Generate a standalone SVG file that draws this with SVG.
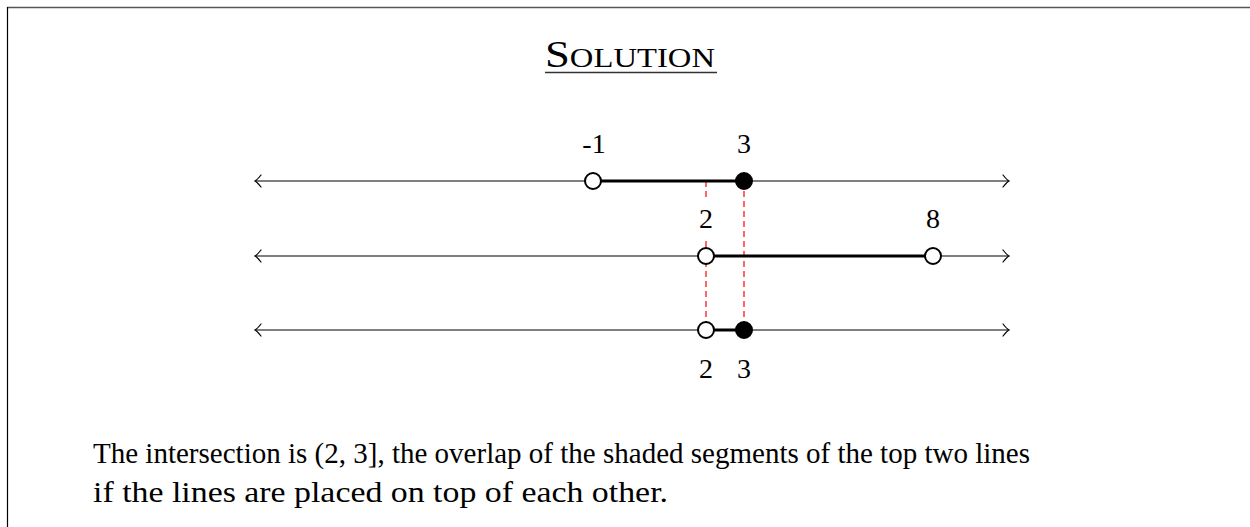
<svg xmlns="http://www.w3.org/2000/svg" width="1250" height="527" viewBox="0 0 1250 527">
<style>
.txt{font-family:"Liberation Serif","DejaVu Serif",serif;fill:#000}
.lab{font-size:28px;text-anchor:middle}
.axis{stroke:#000;stroke-width:1.2;fill:none}
.seg{stroke:#000;stroke-width:3;fill:none}
.open{fill:#fff;stroke:#000;stroke-width:2}
.closed{fill:#000;stroke:#000;stroke-width:2}
.dash{stroke:#f00;stroke-width:1.2;stroke-dasharray:6,4;fill:none}
.head{stroke:#000;stroke-width:1.2;fill:none;stroke-linecap:round}
</style>
<rect width="1250" height="527" fill="#fff"/>
<g id="frame">
<line x1="7" y1="7.5" x2="1250" y2="7.5" stroke="#555" stroke-width="1.5"/>
<line x1="7.5" y1="7" x2="7.5" y2="527" stroke="#000" stroke-width="1.2"/>
</g>
<g id="title">
<text class="txt" x="545" y="67" textLength="170" lengthAdjust="spacingAndGlyphs"><tspan font-size="37">S</tspan><tspan font-size="27">OLUTION</tspan></text>
<line x1="545" y1="72.5" x2="717" y2="72.5" stroke="#333" stroke-width="1.5"/>
</g>
<g id="connectors">
<line class="dash" x1="706" y1="181" x2="706" y2="330"/>
<line class="dash" x1="744" y1="181" x2="744" y2="330"/>
</g>
<g id="line1">
<line class="axis" x1="256" y1="181" x2="1008" y2="181"/>
<path class="head" d="M261,175 Q257,180 255,181 Q257,182 261,187"/>
<path class="head" d="M1003,175 Q1007,180 1009,181 Q1007,182 1003,187"/>
<line class="seg" x1="593" y1="181" x2="744" y2="181"/>
<circle class="open" cx="593" cy="181" r="8"/>
<circle class="closed" cx="744" cy="181" r="8"/>
<text class="txt lab" x="594" y="153">-1</text>
<text class="txt lab" x="744" y="153">3</text>
</g>
<g id="line2">
<line class="axis" x1="256" y1="256" x2="1008" y2="256"/>
<path class="head" d="M261,250 Q257,255 255,256 Q257,257 261,262"/>
<path class="head" d="M1003,250 Q1007,255 1009,256 Q1007,257 1003,262"/>
<line class="seg" x1="706" y1="256" x2="933" y2="256"/>
<circle class="open" cx="706" cy="256" r="8"/>
<circle class="open" cx="933" cy="256" r="8"/>
<rect x="694" y="201" width="24" height="36" fill="#fff"/>
<text class="txt lab" x="706" y="228">2</text>
<text class="txt lab" x="933" y="228">8</text>
</g>
<g id="line3">
<line class="axis" x1="256" y1="330" x2="1008" y2="330"/>
<path class="head" d="M261,324 Q257,329 255,330 Q257,331 261,336"/>
<path class="head" d="M1003,324 Q1007,329 1009,330 Q1007,331 1003,336"/>
<line class="seg" x1="706" y1="330" x2="744" y2="330"/>
<circle class="open" cx="706" cy="330" r="8"/>
<circle class="closed" cx="744" cy="330" r="8"/>
<text class="txt lab" x="706" y="378">2</text>
<text class="txt lab" x="744" y="378">3</text>
</g>
<g id="caption">
<text class="txt" x="93" y="463" font-size="29" textLength="937" lengthAdjust="spacingAndGlyphs">The intersection is (2, 3], the overlap of the shaded segments of the top two lines</text>
<text class="txt" x="93" y="502" font-size="29" textLength="575" lengthAdjust="spacingAndGlyphs">if the lines are placed on top of each other.</text>
</g>
</svg>
